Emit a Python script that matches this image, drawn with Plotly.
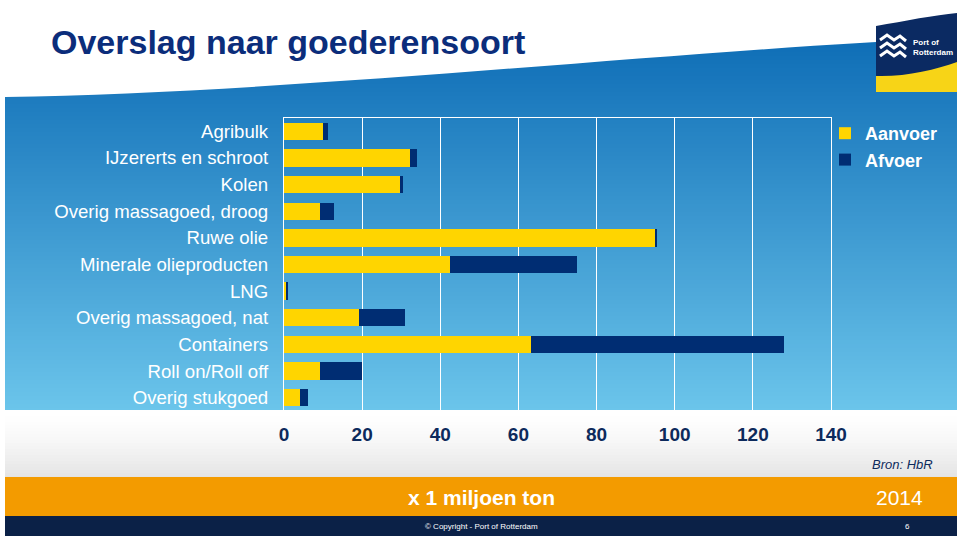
import plotly.graph_objects as go

# ---------------- data ----------------
categories = ["Agribulk", "IJzererts en schroot", "Kolen", "Overig massagoed, droog",
              "Ruwe olie", "Minerale olieproducten", "LNG", "Overig massagoed, nat",
              "Containers", "Roll on/Roll off", "Overig stukgoed"]
aanvoer = [10.0, 32.2, 29.9, 9.3, 95.0, 42.5, 0.7, 19.1, 63.2, 9.2, 4.1]
afvoer = [1.2, 1.9, 0.5, 3.5, 0.4, 32.5, 0.4, 11.8, 64.7, 10.8, 2.0]
x_ticks = [0, 20, 40, 60, 80, 100, 120, 140]
series_names = ["Aanvoer", "Afvoer"]

# ---------------- layout geometry (pixels) ----------------
W, H = 960, 541
L, R, T, B = 284, 831, 118, 411
FONT = "Liberation Sans, Arial, Helvetica, sans-serif"
YELLOW = "#FFD500"
NAVY = "#002D73"


def px(x):
    return (x - L) / (R - L)


def py(y):
    return (B - y) / (B - T)


def path(points, close=True):
    s = "M " + " ".join(
        ("{} {:.5f},{:.5f}".format(c, px(a), py(b)) if c else "{:.5f},{:.5f}".format(px(a), py(b)))
        for c, a, b in points)
    return s + (" Z" if close else "")


def lerp_col(c1, c2, t):
    a = [int(c1[i:i + 2], 16) for i in (1, 3, 5)]
    b = [int(c2[i:i + 2], 16) for i in (1, 3, 5)]
    return "rgb({},{},{})".format(*[round(a[k] + (b[k] - a[k]) * t) for k in range(3)])


fig = go.Figure()
fig.add_trace(go.Bar(y=categories, x=aanvoer, name=series_names[0], orientation="h",
                     marker=dict(color=YELLOW, line=dict(width=0))))
fig.add_trace(go.Bar(y=categories, x=afvoer, name=series_names[1], orientation="h",
                     marker=dict(color=NAVY, line=dict(width=0))))

shapes = []
# blue gradient background
top_c, bot_c = "#0E6DB6", "#6CC5EB"
y0, y1, step = 36, 410, 4
y = y0
while y < y1:
    t = (y - y0) / (y1 - y0)
    shapes.append(dict(type="rect", xref="paper", yref="paper", layer="below",
                       x0=px(5), x1=px(957), y0=py(y), y1=py(min(y + step + 0.6, y1)),
                       fillcolor=lerp_col(top_c, bot_c, t), line=dict(width=0)))
    y += step
# light grey gradient area
y0, y1, step = 410, 478, 3
y = y0
while y < y1:
    t = (y - y0) / (y1 - y0)
    shapes.append(dict(type="rect", xref="paper", yref="paper", layer="below",
                       x0=px(5), x1=px(957), y0=py(y), y1=py(min(y + step + 0.6, y1)),
                       fillcolor=lerp_col("#FFFFFF", "#E2E2E2", t ** 1.5), line=dict(width=0)))
    y += step
# white cover above the wave
shapes.append(dict(type="path", xref="paper", yref="paper", layer="below",
                   path=path([("", 0, 0), ("L", 960, 0), ("L", 960, 38), ("L", 957, 38),
                              ("C", 700, 48), ("", 300, 93), ("", 5, 97), ("L", 0, 97)]),
                   fillcolor="white", line=dict(width=0)))
# orange band
shapes.append(dict(type="rect", xref="paper", yref="paper", layer="below",
                   x0=px(5), x1=px(957), y0=py(477), y1=py(516),
                   fillcolor="#F39B00", line=dict(width=0)))
# navy footer
shapes.append(dict(type="rect", xref="paper", yref="paper", layer="below",
                   x0=px(5), x1=px(957), y0=py(516), y1=py(536),
                   fillcolor="#0B2147", line=dict(width=0)))
# logo
shapes.append(dict(type="path", xref="paper", yref="paper", layer="above",
                   path=path([("", 876, 26), ("C", 905, 21), ("", 935, 15), ("", 957, 13),
                              ("L", 957, 92), ("L", 876, 92)]),
                   fillcolor="#0B2A62", line=dict(width=0)))
shapes.append(dict(type="path", xref="paper", yref="paper", layer="above",
                   path=path([("", 876, 76), ("C", 905, 77), ("", 935, 70), ("", 957, 62),
                              ("L", 957, 92), ("L", 876, 92)]),
                   fillcolor="#F7D417", line=dict(width=0)))
for dy in (0, 8, 16):
    shapes.append(dict(type="path", xref="paper", yref="paper", layer="above",
                       path=path([("", 880, 40 + dy), ("L", 887, 35 + dy), ("L", 894, 40 + dy),
                                  ("L", 900, 36 + dy), ("L", 906, 41 + dy)], close=False),
                       line=dict(color="white", width=3)))

annotations = [
    dict(text="Overslag naar goederensoort", x=px(49), y=py(42), xanchor="left", yanchor="middle",
         font=dict(family=FONT, size=34, color="#0B2D7B", weight="bold")),
    dict(text="Port of", x=px(911), y=py(43), xanchor="left", yanchor="middle",
         font=dict(family=FONT, size=8, color="white", weight="bold")),
    dict(text="Rotterdam", x=px(911), y=py(52), xanchor="left", yanchor="middle",
         font=dict(family=FONT, size=8, color="white", weight="bold")),
    dict(text="Bron: HbR", x=px(935), y=py(464), xanchor="right", yanchor="middle",
         font=dict(family=FONT, size=13, color="#0D2A5C", style="italic")),
    dict(text="x 1 miljoen ton", x=px(481), y=py(497), xanchor="center", yanchor="middle",
         font=dict(family=FONT, size=21, color="white", weight="bold")),
    dict(text="2014", x=px(925), y=py(497), xanchor="right", yanchor="middle",
         font=dict(family=FONT, size=21, color="white")),
    dict(text="© Copyright - Port of Rotterdam", x=px(481), y=py(526), xanchor="center",
         yanchor="middle", font=dict(family=FONT, size=8, color="white")),
    dict(text="6", x=px(908), y=py(526), xanchor="center", yanchor="middle",
         font=dict(family=FONT, size=8, color="white")),
]
for a in annotations:
    a.update(xref="paper", yref="paper", showarrow=False)

fig.update_layout(
    width=W, height=H, autosize=False,
    margin=dict(l=L, r=W - R, t=T, b=H - B, pad=0),
    paper_bgcolor="white", plot_bgcolor="rgba(0,0,0,0)",
    barmode="stack", bargap=0.35,
    shapes=shapes, annotations=annotations,
    showlegend=True,
    legend=dict(x=px(825), y=py(115), xanchor="left", yanchor="top", traceorder="normal",
                font=dict(family=FONT, size=18, color="white", weight="bold"),
                bgcolor="rgba(0,0,0,0)", borderwidth=0, tracegroupgap=0),
    hovermode=False,
    xaxis=dict(range=[0, 140], tickvals=x_ticks, showgrid=True, gridcolor="white", gridwidth=1.2,
               zeroline=False, showline=True, mirror=True, linecolor="white", linewidth=1.2,
               ticks="", ticklabelstandoff=6,
               tickfont=dict(family=FONT, size=19, color="#0D2A5C", weight="bold")),
    yaxis=dict(categoryorder="array", categoryarray=categories, autorange="reversed",
               showgrid=False, zeroline=False, showline=True, mirror=True, linecolor="white",
               linewidth=1.2, ticks="", ticklabelstandoff=11,
               tickfont=dict(family=FONT, size=18.6, color="white")),
)

fig.write_html("out.html", config={"displayModeBar": False},
               post_script="document.body.style.margin='0';document.body.style.overflow='hidden';")
